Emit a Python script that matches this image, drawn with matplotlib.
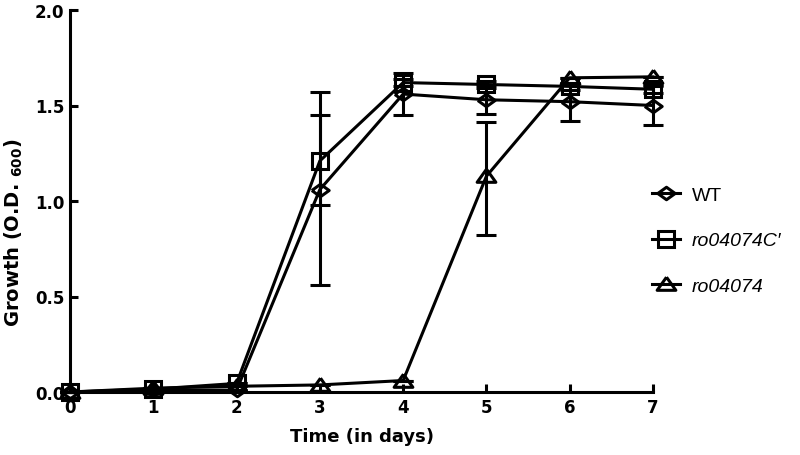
import matplotlib
matplotlib.use("Agg")
import matplotlib.pyplot as plt
import numpy as np

plt.rcParams['font.family'] = ['Liberation Sans', 'DejaVu Sans']
plt.rcParams['mathtext.fontset'] = 'custom'
plt.rcParams['mathtext.rm'] = 'DejaVu Sans:bold'
plt.rcParams['mathtext.bf'] = 'DejaVu Sans:bold'

days = [0, 1, 2, 3, 4, 5, 6, 7]
x_ticks = [0, 1, 2, 3, 4, 5, 6, 7]
y_ticks = [0.0, 0.5, 1.0, 1.5, 2.0]

wt = [0.0, 0.01, 0.01, 1.06, 1.56, 1.53, 1.52, 1.50]
wt_err_lo = [0.0, 0.0, 0.0, 0.50, 0.11, 0.075, 0.10, 0.10]
wt_err_hi = [0.0, 0.0, 0.0, 0.39, 0.11, 0.075, 0.10, 0.10]

comp = [0.0, 0.015, 0.045, 1.21, 1.62, 1.61, 1.60, 1.585]
comp_err_lo = [0.0, 0.0, 0.0, 0.23, 0.02, 0.02, 0.02, 0.02]
comp_err_hi = [0.0, 0.0, 0.0, 0.36, 0.02, 0.02, 0.02, 0.02]

mut = [0.0, 0.02, 0.03, 0.037, 0.06, 1.13, 1.645, 1.65]
mut_err_lo = [0.0, 0.0, 0.0, 0.0, 0.0, 0.31, 0.0, 0.0]
mut_err_hi = [0.0, 0.0, 0.0, 0.0, 0.0, 0.285, 0.0, 0.0]

labels = ['WT', "ro04074C\u2032", 'ro04074']

fig = plt.figure(figsize=(8, 4.56), dpi=100)
ax = fig.add_axes([70/800, 63/456, (653-70)/800, (393-11)/456])

diamond = [(-1, 0), (0, 0.72), (1, 0), (0, -0.72), (-1, 0)]
tri = [(0, 0.78), (-1, -0.62), (1, -0.62), (0, 0.78)]

series = [
    (wt, wt_err_lo, wt_err_hi, diamond, 12.5, labels[0]),
    (comp, comp_err_lo, comp_err_hi, 's', 12, labels[1]),
    (mut, mut_err_lo, mut_err_hi, tri, 13.5, labels[2]),
]
handles = []
for vals, lo, hi, mk, ms, lab in series:
    eb = ax.errorbar(days, vals, yerr=[lo, hi], color='black', lw=2.2,
                     marker=mk, ms=ms, mfc='none', mec='black', mew=2.2,
                     capsize=7.5, capthick=2.2, elinewidth=2.2, clip_on=False,
                     label=lab)
    for a in eb.lines[1]:
        a.set_clip_on(False)
    for a in eb.lines[2]:
        a.set_clip_on(False)
    handles.append(eb.lines[0])

tick_font = dict(family='DejaVu Sans', weight='bold', size=12)
label_font = dict(family='DejaVu Sans', weight='bold', size=13)

ax.set_xlim(0, 7)
ax.set_ylim(0, 2.0)
ax.set_xticks(x_ticks)
ax.set_yticks(y_ticks)
ax.set_xticklabels([str(t) for t in x_ticks], fontdict=tick_font)
ax.set_yticklabels(['%.1f' % t for t in y_ticks], fontdict=tick_font)
ax.tick_params(direction='in', length=6, width=2.2, pad=4)
for s in ['top', 'right']:
    ax.spines[s].set_visible(False)
for s in ['left', 'bottom']:
    ax.spines[s].set_linewidth(2.2)

ax.set_xlabel('Time (in days)', fontdict=label_font, labelpad=8)
ax.set_ylabel(r'Growth (O.D. $_{600}$)', fontdict=dict(label_font, size=14))
ax.yaxis.set_label_coords(-0.078, 0.42)

leg = fig.legend(handles, labels, loc='upper left', bbox_to_anchor=(652/800, 1-187/456),
                 frameon=False, fontsize=14, handlelength=1.45, handletextpad=0.6,
                 labelspacing=1.45, borderpad=0, borderaxespad=0)
for t in leg.get_texts()[1:]:
    t.set_fontstyle('italic')

fig.savefig('out.png', dpi=100)
